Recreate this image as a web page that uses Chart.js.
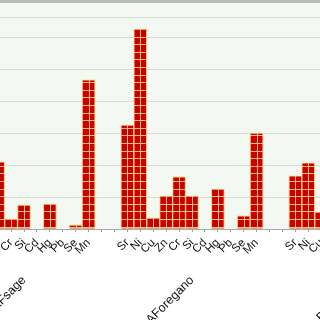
<!DOCTYPE html>
<html>
<head>
<meta charset="utf-8">
<script src="https://cdn.jsdelivr.net/npm/chart.js@4.4.1/dist/chart.umd.min.js"></script>
<style>
  html, body { margin: 0; padding: 0; width: 320px; height: 320px; overflow: hidden; background: #fff; }
  #wrap { position: relative; width: 320px; height: 320px; overflow: hidden; }
  #chart { position: absolute; left: -60px; top: 0; }
</style>
</head>
<body>
<div id="wrap"><canvas id="chart" width="504" height="325"></canvas></div>
<script>
// elements measured per sample (same order in every group)
const elements = ['Sr', 'Ni', 'Cu', 'Zn', 'Cr', 'Si', 'Cd', 'Hg', 'Pb', 'Se', 'Mn'];
const groups = ['BAFsage', 'BAForegano', 'BAFthyme'];

const sageValues    = [2.4, 3.1, 0.5, 2.1, 0.31, 0.75, 0, 0.78, 0, 0.12, 4.66];
const oreganoValues = [3.25, 6.25, 0.34, 1.03, 1.63, 1.03, 0, 1.25, 0, 0.41, 3.0];
const thymeValues   = [1.66, 2.07, 0.53, 1.2, 0.9, 0.8, 0, 0.6, 0, 0.2, 2.5];

const yMax = 7.125;
const yGridValues = [0, 1, 2, 3, 4, 5, 6, 6.625, 7.125];

// one empty slot on each side of a group
let labels = [];
let values = [];
[sageValues, oreganoValues, thymeValues].forEach(vals => {
    labels.push('', ...elements, '');
    values.push(null, ...vals, null);
});

const plotBg = {
    id: 'plotBg',
    beforeDraw(chart) {
        const {ctx, chartArea} = chart;
        ctx.save();
        ctx.fillStyle = '#f3f8f2';
        ctx.fillRect(chartArea.left, chartArea.top, chartArea.width, chartArea.bottom - chartArea.top);
        ctx.restore();
    }
};

// yellow glow round the bars
const glow = {
    id: 'glow',
    beforeDatasetsDraw(chart) {
        const ctx = chart.ctx;
        ctx.save();
        ctx.shadowColor = 'rgba(255, 240, 160, 1)';
        ctx.shadowBlur = 7;
    },
    afterDatasetsDraw(chart) {
        chart.ctx.restore();
    }
};

// brick grid painted over each bar
const hatch = {
    id: 'hatch',
    afterDatasetsDraw(chart) {
        const ctx = chart.ctx;
        const meta = chart.getDatasetMeta(0);
        ctx.save();
        ctx.strokeStyle = '#f6bd7c';
        ctx.lineWidth = 1;
        meta.data.forEach(bar => {
            const {x, y, base, width} = bar.getProps(['x', 'y', 'base', 'width'], true);
            if (isNaN(y) || base - y < 0.5) return;
            const l = x - width / 2, r = x + width / 2;
            ctx.beginPath();
            const mx = Math.round(x) + 0.5;
            ctx.moveTo(mx, y);
            ctx.lineTo(mx, base);
            for (let yy = base - 2; yy > y + 1; yy -= 7.6) {
                const py = Math.round(yy) + 0.5;
                ctx.moveTo(l, py);
                ctx.lineTo(r, py);
            }
            ctx.stroke();
        });
        ctx.restore();
    }
};

new Chart(document.getElementById('chart'), {
    type: 'bar',
    data: {
        labels: labels,
        datasets: [{
            data: values,
            backgroundColor: '#c80000',
            borderColor: '#f6bd7c',
            borderWidth: 1,
            barPercentage: 1,
            categoryPercentage: 1
        }]
    },
    options: {
        responsive: false,
        animation: false,
        devicePixelRatio: 1,
        layout: { padding: { top: 1, left: 0, right: 0, bottom: 0 } },
        plugins: { legend: { display: false }, tooltip: { enabled: false } },
        scales: {
            x: {
                type: 'category',
                offset: true,
                grid: { offset: false, drawOnChartArea: false, tickLength: 3, color: '#9aa09a' },
                border: { display: false },
                ticks: {
                    autoSkip: false, minRotation: 45, maxRotation: 45, padding: 4,
                    color: '#111', font: { family: 'Liberation Sans, Arial', size: 11.5 }
                },
                afterFit(s) { s.height = 36; s.paddingLeft = 0; s.paddingRight = 0; }
            },
            x2: {
                type: 'category',
                position: 'bottom',
                labels: groups,
                offset: true,
                grid: { display: false },
                border: { display: false },
                ticks: {
                    autoSkip: false, minRotation: 45, maxRotation: 45, padding: 0,
                    color: '#111', font: { family: 'Liberation Sans, Arial', size: 12.5 }
                },
                afterFit(s) { s.height = 60; s.paddingLeft = 0; s.paddingRight = 0; }
            },
            y: {
                min: 0,
                max: yMax,
                afterBuildTicks(s) { s.ticks = yGridValues.map(v => ({ value: v })); },
                ticks: { display: false },
                border: { display: false },
                grid: {
                    drawTicks: false,
                    color: ctx => ctx.tick.value === yMax ? '#b6bdb6' : (ctx.tick.value === 0 ? '#a4aaa4' : '#d6dbd5'),
                    lineWidth: ctx => ctx.tick.value === yMax ? 3 : 1
                },
                afterFit(s) { s.width = 0; }
            }
        }
    },
    plugins: [plotBg, glow, hatch]
});
</script>
</body>
</html>
